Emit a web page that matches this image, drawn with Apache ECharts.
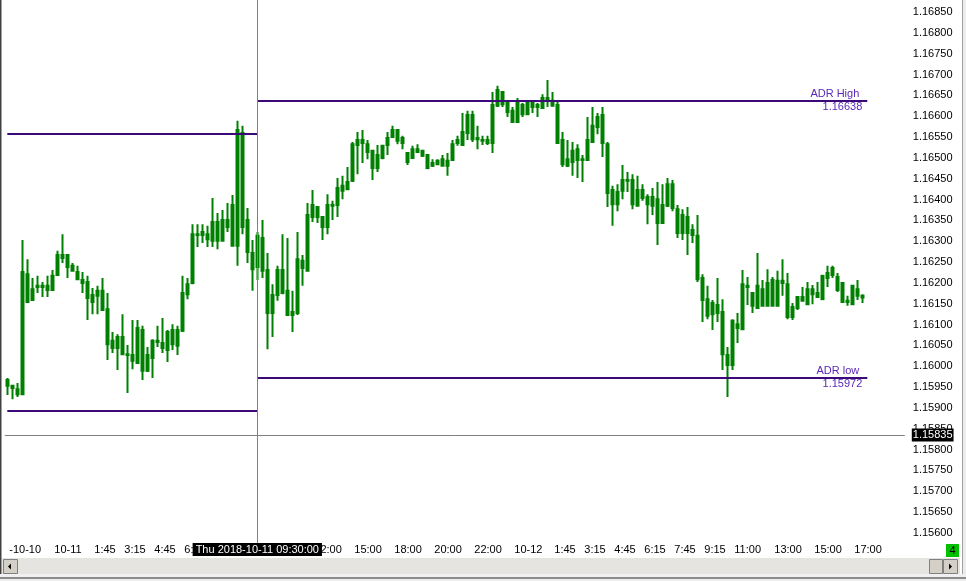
<!DOCTYPE html>
<html>
<head>
<meta charset="utf-8">
<script src="https://cdn.jsdelivr.net/npm/echarts@6/dist/echarts.min.js"></script>
<style>
html,body{margin:0;padding:0;background:#fff;}
#chart{width:966px;height:581px;}
</style>
</head>
<body>
<div id="chart"></div>
<script>
// EURUSD M15 bars
var opens = [1.15967,1.15953,1.15945,1.15933,1.16221,1.16159,1.16190,1.16193,1.16183,1.16183,
1.16219,1.16267,1.16267,1.16241,1.16226,1.16207,1.16202,1.16154,1.16169,1.16181,
1.16137,1.16044,1.16070,1.16029,1.16029,1.16027,1.16008,1.16087,1.15989,1.16020,
1.16061,1.16056,1.16039,1.16087,1.16049,1.16085,1.16173,1.16200,1.16317,1.16315,
1.16317,1.16301,1.16346,1.16301,1.16351,1.16289,1.16289,1.16560,1.16351,1.16272,
1.16238,1.16308,1.16231,1.16128,1.16171,1.16231,1.16181,1.16123,1.16128,1.16253,
1.16229,1.16358,1.16382,1.16358,1.16334,1.16387,1.16387,1.16421,1.16425,1.16445,
1.16531,1.16543,1.16533,1.16517,1.16476,1.16500,1.16531,1.16550,1.16567,1.16548,
1.16512,1.16500,1.16521,1.16517,1.16507,1.16481,1.16485,1.16481,1.16493,1.16495,
1.16536,1.16531,1.16560,1.16603,1.16545,1.16543,1.16543,1.16536,1.16625,1.16658,
1.16632,1.16586,1.16586,1.16627,1.16605,1.16632,1.16622,1.16620,1.16644,1.16637,
1.16627,1.16543,1.16481,1.16490,1.16521,1.16497,1.16495,1.16538,1.16574,1.16603,
1.16533,1.16423,1.16389,1.16421,1.16447,1.16447,1.16385,1.16423,1.16406,1.16385,
1.16401,1.16344,1.16385,1.16437,1.16377,1.16320,1.16358,1.16327,1.16313,1.16212,
1.16161,1.16125,1.16147,1.16130,1.16027,1.16003,1.16092,1.16089,1.16193,1.16176,
1.16140,1.16185,1.16145,1.16207,1.16145,1.16205,1.16197,1.16118,1.16140,1.16157,
1.16149,1.16185,1.16166,1.16161,1.16212,1.16219,1.16214,1.16200,1.16157,1.16149,
1.16185,1.16169];
var closes = [1.15953,1.15948,1.15933,1.16226,1.16154,1.16185,1.16193,1.16190,1.16193,1.16217,
1.16267,1.16260,1.16238,1.16229,1.16209,1.16200,1.16164,1.16171,1.16181,1.16135,
1.16053,1.16061,1.16044,1.16070,1.16027,1.16013,1.16092,1.15989,1.16027,1.16061,
1.16058,1.16044,1.16082,1.16053,1.16087,1.16176,1.16197,1.16317,1.16315,1.16322,
1.16305,1.16346,1.16301,1.16351,1.16334,1.16387,1.16567,1.16334,1.16274,1.16233,
1.16313,1.16229,1.16128,1.16171,1.16231,1.16176,1.16123,1.16130,1.16257,1.16236,
1.16363,1.16387,1.16358,1.16334,1.16387,1.16385,1.16428,1.16433,1.16442,1.16533,
1.16543,1.16536,1.16514,1.16476,1.16507,1.16529,1.16548,1.16567,1.16541,1.16536,
1.16490,1.16521,1.16514,1.16505,1.16476,1.16488,1.16493,1.16497,1.16481,1.16533,
1.16543,1.16562,1.16603,1.16545,1.16548,1.16541,1.16536,1.16627,1.16663,1.16629,
1.16610,1.16613,1.16632,1.16605,1.16632,1.16622,1.16627,1.16644,1.16637,1.16625,
1.16536,1.16485,1.16497,1.16517,1.16495,1.16495,1.16543,1.16577,1.16598,1.16536,
1.16416,1.16389,1.16418,1.16447,1.16445,1.16389,1.16423,1.16404,1.16389,1.16406,
1.16344,1.16387,1.16437,1.16380,1.16320,1.16363,1.16320,1.16315,1.16209,1.16159,
1.16121,1.16152,1.16128,1.16029,1.16003,1.16109,1.16101,1.16197,1.16190,1.16145,
1.16193,1.16145,1.16200,1.16145,1.16205,1.16200,1.16118,1.16142,1.16166,1.16166,
1.16185,1.16173,1.16176,1.16217,1.16224,1.16236,1.16183,1.16154,1.16154,1.16193,
1.16169,1.16165];
var lows = [1.15931,1.15921,1.15926,1.15931,1.16152,1.16157,1.16176,1.16166,1.16166,1.16181,
1.16217,1.16248,1.16212,1.16229,1.16207,1.16176,1.16111,1.16125,1.16125,1.16135,
1.16015,1.16032,1.15991,1.16027,1.15936,1.15993,1.16008,1.15967,1.15986,1.15972,
1.16046,1.16032,1.16010,1.16039,1.16027,1.16082,1.16161,1.16197,1.16286,1.16296,
1.16286,1.16286,1.16281,1.16301,1.16322,1.16289,1.16241,1.16317,1.16248,1.16181,
1.16207,1.16212,1.16041,1.16070,1.16157,1.16173,1.16123,1.16082,1.16123,1.16193,
1.16229,1.16346,1.16344,1.16303,1.16317,1.16351,1.16358,1.16401,1.16425,1.16442,
1.16461,1.16488,1.16497,1.16447,1.16466,1.16497,1.16507,1.16548,1.16533,1.16521,
1.16483,1.16500,1.16514,1.16502,1.16473,1.16478,1.16483,1.16481,1.16457,1.16495,
1.16529,1.16531,1.16543,1.16538,1.16521,1.16531,1.16531,1.16512,1.16622,1.16622,
1.16598,1.16586,1.16586,1.16598,1.16605,1.16608,1.16598,1.16620,1.16622,1.16625,
1.16536,1.16478,1.16478,1.16457,1.16452,1.16442,1.16493,1.16538,1.16557,1.16502,
1.16382,1.16337,1.16372,1.16401,1.16418,1.16377,1.16385,1.16397,1.16341,1.16363,
1.16291,1.16344,1.16382,1.16372,1.16308,1.16303,1.16267,1.16296,1.16202,1.16106,
1.16113,1.16087,1.16106,1.15991,1.15926,1.15991,1.16056,1.16089,1.16147,1.16128,
1.16140,1.16145,1.16145,1.16145,1.16145,1.16169,1.16113,1.16111,1.16135,1.16157,
1.16149,1.16149,1.16164,1.16161,1.16190,1.16212,1.16178,1.16154,1.16145,1.16149,
1.16159,1.16152];
var highs = [1.15972,1.15955,1.15960,1.16303,1.16257,1.16212,1.16217,1.16202,1.16217,1.16231,
1.16277,1.16317,1.16267,1.16248,1.16241,1.16226,1.16217,1.16188,1.16193,1.16212,
1.16176,1.16082,1.16077,1.16125,1.16051,1.16111,1.16111,1.16097,1.16046,1.16065,
1.16097,1.16116,1.16087,1.16101,1.16097,1.16217,1.16212,1.16341,1.16341,1.16341,
1.16337,1.16404,1.16368,1.16375,1.16392,1.16411,1.16589,1.16577,1.16380,1.16303,
1.16322,1.16351,1.16272,1.16197,1.16241,1.16317,1.16308,1.16181,1.16322,1.16267,
1.16392,1.16423,1.16382,1.16358,1.16413,1.16397,1.16452,1.16457,1.16478,1.16538,
1.16562,1.16567,1.16543,1.16517,1.16531,1.16531,1.16562,1.16577,1.16567,1.16553,
1.16512,1.16529,1.16533,1.16519,1.16507,1.16497,1.16497,1.16507,1.16512,1.16543,
1.16553,1.16608,1.16613,1.16613,1.16577,1.16553,1.16553,1.16658,1.16673,1.16658,
1.16632,1.16622,1.16644,1.16632,1.16639,1.16632,1.16632,1.16653,1.16687,1.16658,
1.16639,1.16562,1.16543,1.16538,1.16533,1.16507,1.16598,1.16622,1.16608,1.16622,
1.16538,1.16433,1.16437,1.16483,1.16466,1.16461,1.16457,1.16437,1.16413,1.16428,
1.16442,1.16437,1.16452,1.16447,1.16387,1.16377,1.16382,1.16341,1.16363,1.16221,
1.16193,1.16159,1.16212,1.16161,1.16046,1.16113,1.16128,1.16231,1.16214,1.16178,
1.16272,1.16207,1.16233,1.16214,1.16229,1.16257,1.16224,1.16152,1.16166,1.16190,
1.16202,1.16195,1.16202,1.16217,1.16241,1.16241,1.16224,1.16202,1.16169,1.16195,
1.16207,1.16173];

// time scale labels: bar index and text
var tickIdx  = [0, 9, 17, 23, 29, 35, 61, 69, 77, 85, 93, 101, 109, 115, 121, 127, 133, 139, 145, 153, 161, 169];
var tickText = ['-10-10','10-11','1:45','3:15','4:45','6:15','12:00','15:00','18:00','20:00','22:00',
                '10-12','1:45','3:15','4:45','6:15','7:45','9:15','11:00','13:00','15:00','17:00'];

// ADR levels (previous day on the left, current day on the right)
var prevLevels = [1.16557, 1.15893];
var adrLevels  = [1.16638, 1.15972];
var adrNames   = ['ADR High', 'ADR low'];
var dayStart   = 50;

// crosshair
var crossBar   = 50.35;
var crossPrice = 1.15835;
var crossTime  = 'Thu 2018-10-11 09:30:00';

var chartShift = 8;

var font = 'Liberation Sans, Arial, sans-serif';
var lineColor = '#3c0a78';
var textColor = '#5a28b4';

var slots = [];
for (var i = 0; i < opens.length + chartShift; i++) slots.push(String(i));
var bars = opens.map(function(o, i){ return [o, closes[i], lows[i], highs[i]]; });
var lastBar = opens.length - 0.5;

var lines = [];
prevLevels.forEach(function(v){
    lines.push([{coord:[0, v], label:{show:false}}, {coord:[dayStart, v]}]);
});
adrLevels.forEach(function(v, k){
    lines.push([{coord:[dayStart, v], label:{show:true, position:'insideEndTop', distance:[8, 1], formatter:adrNames[k]}}, {coord:[lastBar, v]}]);
    lines.push([{coord:[dayStart, v], lineStyle:{color:'rgba(0,0,0,0)', width:0}, label:{show:true, position:'insideEndBottom', distance:[5, 1], formatter:v.toFixed(5)}}, {coord:[lastBar, v]}]);
});

var chart = echarts.init(document.getElementById('chart'));
var option = {
    animation: false,
    backgroundColor: '#fff',
    axisPointer: {triggerOn: 'none'},
    grid: {left: 4.8, right: 61.2, top: 0, bottom: 27.25},
    xAxis: {
        type: 'category',
        data: slots,
        boundaryGap: true,
        offset: -13.75,
        axisLine: {show: false},
        axisTick: {show: false},
        splitLine: {show: false},
        axisLabel: {
            interval: function(i){ return tickIdx.indexOf(i) >= 0; },
            formatter: function(v, i){ var k = tickIdx.indexOf(i); return k >= 0 ? tickText[k] : ''; },
            align: 'left',
            margin: 4,
            padding: [0, 0, 0, 2],
            color: '#000',
            fontFamily: font,
            fontSize: 11
        },
        axisPointer: {
            show: true, status: 'show', value: crossBar, snap: false, type: 'line', triggerOn: 'none',
            lineStyle: {color: '#808080', width: 1, type: 'solid'},
            label: {show: true, formatter: function(){ return crossTime; }, backgroundColor: '#000', color: '#fff',
                    padding: [1, 3, 1, 3], margin: 3, fontFamily: font, fontSize: 11, borderRadius: 0}
        }
    },
    yAxis: {
        type: 'value',
        position: 'right',
        min: 1.1555,
        max: 1.16879,
        interval: 0.0005,
        axisLine: {show: false},
        axisTick: {show: false},
        splitLine: {show: false},
        axisLabel: {
            margin: 8,
            align: 'left',
            color: '#000',
            fontFamily: font,
            fontSize: 11,
            showMaxLabel: false,
            formatter: function(v){ return (v < 1.15575 || v > 1.16875) ? '' : v.toFixed(5); }
        },
        axisPointer: {
            show: true, status: 'show', value: crossPrice, type: 'line', triggerOn: 'none',
            lineStyle: {color: '#808080', width: 1, type: 'solid'},
            label: {show: true, formatter: function(){ return crossPrice.toFixed(5); }, backgroundColor: '#000', color: '#fff',
                    padding: [1, 1, 1, 1], margin: 7, fontFamily: font, fontSize: 11, borderRadius: 0}
        }
    },
    series: [{
        type: 'candlestick',
        data: bars,
        barWidth: 2,
        itemStyle: {color: '#008000', color0: '#008000', borderColor: '#008000', borderColor0: '#008000', borderColorDoji: '#008000', borderWidth: 2},
        markLine: {
            silent: true,
            symbol: ['none', 'none'],
            animation: false,
            lineStyle: {color: lineColor, width: 2, type: 'solid'},
            label: {color: textColor, fontFamily: font, fontSize: 11},
            emphasis: {disabled: true},
            data: lines
        }
    }],
    graphic: [
        // window frame
        {type: 'rect', z: 100, shape: {x: 0, y: 0, width: 1, height: 578}, style: {fill: '#404040'}},
        {type: 'rect', z: 100, shape: {x: 1, y: 0, width: 1, height: 578}, style: {fill: '#a0a0a0'}},
        {type: 'rect', z: 100, shape: {x: 962, y: 0, width: 1, height: 578}, style: {fill: '#a0a0a0'}},
        {type: 'rect', z: 100, shape: {x: 963, y: 0, width: 3, height: 581}, style: {fill: '#ececec'}},
        // scrollbar
        {type: 'rect', z: 100, shape: {x: 2, y: 558, width: 958, height: 16}, style: {fill: '#e6e4e0'}},
        {type: 'rect', z: 101, shape: {x: 3.5, y: 559.5, width: 14, height: 14}, style: {fill: '#d4d0c8', stroke: '#808080', lineWidth: 1}},
        {type: 'polygon', z: 102, shape: {points: [[8, 566.5], [11, 563.5], [11, 569.5]]}, style: {fill: '#000'}},
        {type: 'rect', z: 101, shape: {x: 929.5, y: 559.5, width: 13, height: 14}, style: {fill: '#d4d0c8', stroke: '#808080', lineWidth: 1}},
        {type: 'rect', z: 101, shape: {x: 943.5, y: 559.5, width: 14, height: 14}, style: {fill: '#d4d0c8', stroke: '#808080', lineWidth: 1}},
        {type: 'polygon', z: 102, shape: {points: [[949, 563.5], [952, 566.5], [949, 569.5]]}, style: {fill: '#000'}},
        {type: 'rect', z: 100, shape: {x: 0, y: 574, width: 966, height: 3}, style: {fill: '#f0f0f0'}},
        {type: 'rect', z: 100, shape: {x: 0, y: 577, width: 966, height: 2}, style: {fill: '#8c8c8c'}},
        {type: 'rect', z: 100, shape: {x: 0, y: 579, width: 966, height: 2}, style: {fill: '#ececec'}},
        // status box
        {type: 'rect', z: 100, shape: {x: 946, y: 544, width: 13, height: 13}, style: {fill: '#00c000'}},
        {type: 'text', z: 101, style: {text: '4', x: 952.5, y: 551, align: 'center', verticalAlign: 'middle', font: '11px Liberation Sans', fill: '#000'}}
    ]
};
chart.setOption(option);
</script>
</body>
</html>
